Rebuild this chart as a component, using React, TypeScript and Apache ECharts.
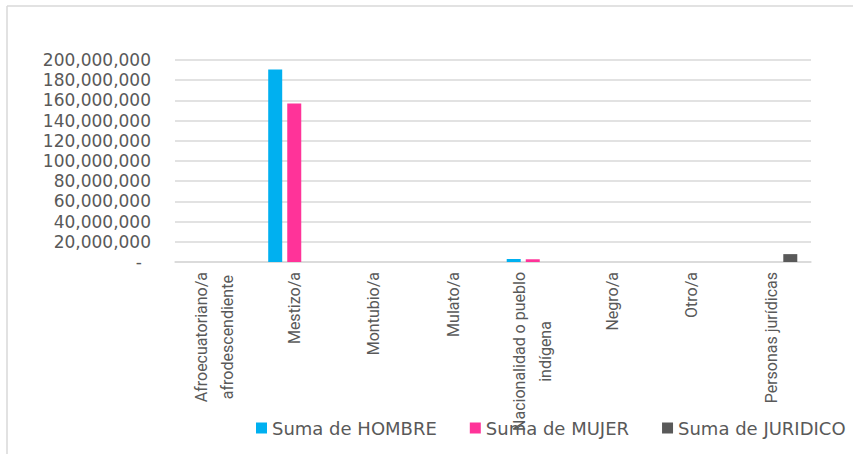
import React, { useEffect, useRef } from "react";
import * as echarts from "echarts";

const categories = [
  "Afroecuatoriano/a\nafrodescendiente",
  "Mestizo/a",
  "Montubio/a",
  "Mulato/a",
  "Nacionalidad o pueblo\nindígena",
  "Negro/a",
  "Otro/a",
  "Personas jurídicas",
];
const seriesNames = ["Suma de HOMBRE", "Suma de MUJER", "Suma de JURIDICO"];
const hombre = [0, 190500000, 0, 0, 2900000, 0, 0, 0];
const mujer = [0, 157000000, 0, 0, 2700000, 0, 0, 0];
const juridico = [0, 0, 0, 0, 0, 0, 0, 7800000];
const colors = ["#00B0F0", "#FF3399", "#595959"];

export default function App() {
  const ref = useRef<HTMLDivElement>(null);
  useEffect(() => {
    if (!ref.current) return;
    const chart = echarts.init(ref.current, null, { renderer: "svg" });
    const values = [hombre, mujer, juridico];
    chart.setOption({
      animation: false,
      backgroundColor: "#ffffff",
      color: colors,
      grid: { left: 175, right: 42, top: 60, bottom: 192, containLabel: false },
      graphic: [
        { type: "line", shape: { x1: 7, y1: 6, x2: 853, y2: 6 }, style: { stroke: "#d9d9d9", lineWidth: 1.5 } },
        { type: "line", shape: { x1: 7, y1: 6, x2: 7, y2: 454 }, style: { stroke: "#d9d9d9", lineWidth: 1.5 } },
      ],
      legend: {
        left: 251,
        top: 414,
        itemWidth: 11,
        itemHeight: 11,
        itemGap: 33,
        icon: "rect",
        textStyle: { fontFamily: "DejaVu Sans", fontSize: 18, color: "#595959" },
        data: seriesNames,
      },
      xAxis: {
        type: "category",
        data: categories,
        axisLine: { lineStyle: { color: "#d9d9d9", width: 1.5 } },
        axisTick: { show: false },
        axisLabel: {
          rotate: 90,
          margin: 10,
          interval: 0,
          formatter: (v: string) => v.split("\n").map((s) => "{c|" + s + "}").join("\n"),
          rich: {
            c: { align: "center", fontFamily: "Roboto", fontSize: 16, color: "#595959", lineHeight: 26 },
          },
        },
      },
      yAxis: {
        type: "value",
        min: 0,
        max: 200000000,
        interval: 20000000,
        axisLine: { show: false },
        axisTick: { show: false },
        splitLine: { lineStyle: { color: "#d9d9d9", width: 1.5 } },
        axisLabel: {
          margin: 24,
          fontFamily: "DejaVu Sans",
          fontSize: 17,
          color: "#595959",
          formatter: (v: number) => (v === 0 ? "{d|-}" : v.toLocaleString("en-US")),
          rich: { d: { fontFamily: "DejaVu Sans", fontSize: 17, color: "#595959", padding: [0, 9, 0, 0] } },
        },
      },
      series: seriesNames.map((name, i) => ({
        name,
        type: "bar",
        data: values[i],
        barWidth: 14,
        barGap: "36%",
        itemStyle: { color: colors[i] },
      })),
    });
    return () => chart.dispose();
  }, []);
  return (
    <div
      ref={ref}
      style={{ position: "fixed", left: 0, top: 0, width: 853, height: 454 }}
    />
  );
}
